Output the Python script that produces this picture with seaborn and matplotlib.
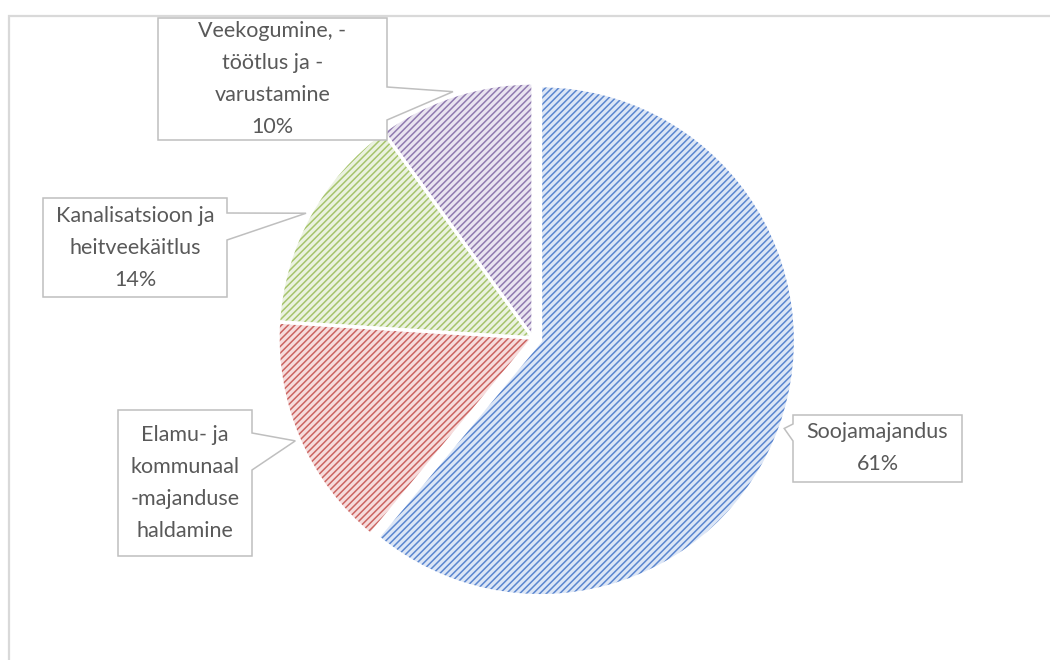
import numpy as np
import seaborn as sns
import matplotlib.pyplot as plt
from matplotlib.patches import Polygon, Rectangle

# andmed
categories = ["Soojamajandus",
              "Elamu- ja\nkommunaal\n-majanduse\nhaldamine",
              "Kanalisatsioon ja\nheitveekäitlus",
              "Veekogumine, -\ntöötlus ja -\nvarustamine"]
shares = [61, 15, 14, 10]
show_pct = [True, False, True, True]

line_colors = ["#5B86CF", "#CB6461", "#A6C46C", "#907AB0"]
fill_colors = ["#DCE6F6", "#F6DCDC", "#EBF2E0", "#E9E4F0"]

# sildikastid: (x0, y0, x1, y1) pikslites ülalt, külg ja sälgu y-id
boxes = [
    ((793, 415, 962, 482), "left", (424, 441)),
    ((118, 410, 252, 556), "right", (433, 470)),
    ((43, 198, 227, 297), "right", (213, 240)),
    ((158, 18, 387, 140), "right", (87, 120)),
]

W, H = 1050, 660
sns.set_theme(style="white")
plt.rcParams['font.family'] = ['Lato', 'DejaVu Sans']
plt.rcParams['hatch.linewidth'] = 1.1

fig = plt.figure(figsize=(W / 100, H / 100), dpi=100)
ax = fig.add_axes([0, 0, 1, 1])

# raam
ax.add_patch(Rectangle((9, -20), W + 20, H - 16 + 20, fill=False,
                       edgecolor="#D9D9D9", linewidth=1.6, zorder=0))

center = (533, H - 338)
radius = 255
explode = [8, 0, 0, 0]

wedges, _ = ax.pie(shares, center=center, radius=radius, startangle=90,
                   counterclock=False, explode=explode, colors=fill_colors,
                   wedgeprops=dict(linewidth=0), frame=True)
for w, c in zip(wedges, line_colors):
    w.set_edgecolor(c)
    w.set_linewidth(0)
    w.set_hatch('/////')

# valged vahed
ax.pie(shares, center=center, radius=radius, startangle=90,
       counterclock=False, explode=explode, frame=True,
       wedgeprops=dict(fill=False, edgecolor="white", linewidth=2.4))
ax.set_xlim(0, W)
ax.set_ylim(0, H)
ax.set_aspect('equal')
ax.axis('off')

for w, cat, pct, show, (box, side, notch) in zip(wedges, categories, shares, show_pct, boxes):
    mid = np.deg2rad((w.theta1 + w.theta2) / 2)
    tx = w.center[0] + (w.r + 4) * np.cos(mid)
    ty = w.center[1] + (w.r + 4) * np.sin(mid)
    x0, y0, x1, y1 = box
    y0, y1 = H - y0, H - y1
    n0, n1 = H - notch[0], H - notch[1]
    if side == "left":
        pts = [(x0, y0), (x1, y0), (x1, y1), (x0, y1), (x0, n1), (tx, ty), (x0, n0)]
    else:
        pts = [(x0, y0), (x1, y0), (x1, n0), (tx, ty), (x1, n1), (x1, y1), (x0, y1)]
    ax.add_patch(Polygon(pts, closed=True, facecolor="white",
                         edgecolor="#BFBFBF", linewidth=1.1, zorder=3))
    text = cat + (f"\n{pct}%" if show else "")
    ax.text((x0 + x1) / 2, (y0 + y1) / 2, text, ha="center", va="center",
            fontsize=15.5, color="#595959", linespacing=1.75, zorder=4)

fig.savefig("out.png", dpi=100)
